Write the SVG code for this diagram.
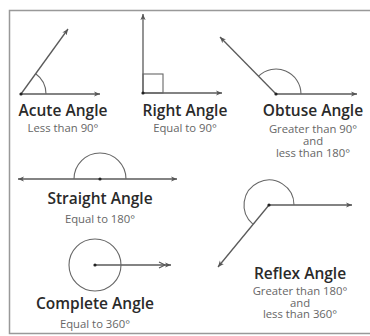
<svg xmlns="http://www.w3.org/2000/svg" width="370" height="336" viewBox="0 0 370 336">
<defs>
<marker id="ah" viewBox="0 0 8 8" refX="7" refY="4" markerWidth="7" markerHeight="7" markerUnits="userSpaceOnUse" orient="auto-start-reverse">
<path d="M0,1 L7,4 L0,7 L2,4 Z" fill="#555"/>
</marker>
</defs>
<style>
.ln{stroke:#5a5a5a;stroke-width:1.3;fill:none}
.arc{stroke:#666;stroke-width:1.1;fill:none}
.dot{fill:#222}
.t{font-family:"Open Sans","DejaVu Sans",sans-serif;font-weight:600;font-size:15.5px;fill:#2a2a2a;text-anchor:middle}
.s{font-family:"Open Sans","DejaVu Sans",sans-serif;font-size:11.3px;fill:#666;text-anchor:middle}
</style>
<rect width="370" height="336" fill="#fff"/>
<path d="M372,10.5 H9.5 V333.5 H372" fill="none" stroke="#999" stroke-width="1.5"/>
<g id="connectors">
<line class="ln" x1="21" y1="94" x2="100" y2="94" marker-end="url(#ah)"/>
<line class="ln" x1="21" y1="94" x2="68" y2="29" marker-end="url(#ah)"/>
<line class="ln" x1="143" y1="93" x2="143" y2="14" marker-end="url(#ah)"/>
<line class="ln" x1="143" y1="93" x2="222" y2="93" marker-end="url(#ah)"/>
<line class="ln" x1="276" y1="94" x2="357" y2="94" marker-end="url(#ah)"/>
<line class="ln" x1="276" y1="94" x2="220" y2="37" marker-end="url(#ah)"/>
<line class="ln" x1="18" y1="179" x2="177" y2="179" marker-start="url(#ah)" marker-end="url(#ah)"/>
<line class="ln" x1="95" y1="265" x2="171" y2="265" marker-end="url(#ah)"/>
<path d="M159,262 L165,265 L159,268" fill="none" stroke="#555" stroke-width="1.1"/>
<line class="ln" x1="269" y1="205" x2="352" y2="205" marker-end="url(#ah)"/>
<line class="ln" x1="269" y1="205" x2="218" y2="267" marker-end="url(#ah)"/>
</g>
<g id="acute">
<path class="arc" d="M46,94 A25,25 0 0 0 35.7,73.7"/>
<circle class="dot" cx="21" cy="94" r="1.6"/>
<text class="t" x="63" y="116">Acute Angle</text>
<text class="s" x="63" y="132">Less than 90°</text>
</g>
<g id="right">
<rect x="143" y="74" width="20" height="19" fill="none" stroke="#666" stroke-width="1.1"/>
<circle class="dot" cx="143" cy="93" r="1.6"/>
<text class="t" x="185" y="116">Right Angle</text>
<text class="s" x="185" y="132">Equal to 90°</text>
</g>
<g id="obtuse">
<path class="arc" d="M301,94 A25,25 0 0 0 258.5,76.2"/>
<circle class="dot" cx="276" cy="94" r="1.6"/>
<text class="t" x="313" y="116">Obtuse Angle</text>
<text class="s" x="313" y="133">Greater than 90°</text>
<text class="s" x="313" y="145">and</text>
<text class="s" x="313" y="157">less than 180°</text>
</g>
<g id="straight">
<path class="arc" d="M126,179 A26,26 0 0 0 74,179"/>
<circle class="dot" cx="100" cy="179" r="1.6"/>
<text class="t" x="100" y="204">Straight Angle</text>
<text class="s" x="100" y="223">Equal to 180°</text>
</g>
<g id="complete">
<circle class="arc" cx="95" cy="265" r="26"/>
<circle class="dot" cx="95" cy="265" r="1.6"/>
<text class="t" x="95" y="309">Complete Angle</text>
<text class="s" x="95" y="328">Equal to 360°</text>
</g>
<g id="reflex">
<path class="arc" d="M294,205 A25,25 0 1 0 253.1,224.3"/>
<circle class="dot" cx="269" cy="205" r="1.6"/>
<text class="t" x="300" y="279">Reflex Angle</text>
<text class="s" x="300" y="295">Greater than 180°</text>
<text class="s" x="300" y="306.5">and</text>
<text class="s" x="300" y="318">less than 360°</text>
</g>
</svg>
